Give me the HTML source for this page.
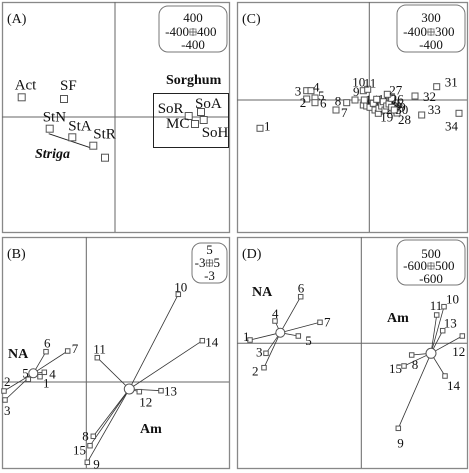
<!DOCTYPE html>
<html><head><meta charset="utf-8"><style>
body{margin:0;background:#fff}
svg{display:block;font-family:"Liberation Serif",serif}
text{fill:#111}
</style></head><body>
<svg id="c" width="469" height="473" viewBox="0 0 469 473" xmlns="http://www.w3.org/2000/svg"></svg>
<script>
// Panel A data
const aLabels=["Act","SF","StN","StA","StR","","SoR","SoA","MC","SoH"];
const aX=[-933,-510,-653,-427,-217,-100,737,860,800,887];
const aY=[197,180,-117,-203,-287,-407,10,50,-70,-30];
// Panel C data
const cLabels=["1","2","3","4","5","6","7","8","9","10","11","12","13","14","15","16","17","18","19","20","21","22","23","24","25","26","27","28","29","30","31","32","33","34"];
const cX=[-1093,-626,-626,-583,-543,-543,-333,-226,-143,-60,-16,-60,-26,-50,7,40,57,74,90,97,124,140,157,174,197,224,180,277,224,250,674,457,524,897];
const cY=[-283,10,93,93,20,-27,-100,-27,0,93,107,-50,-60,0,-73,-33,-100,7,-133,-83,-60,-17,-100,-60,-40,17,57,-130,-73,-100,133,40,-150,-133];
// Panel B data
const bLabels=["1","2","3","4","5","6","7","8","9","10","11","12","13","14","15"];
const bGroup=[0,0,0,0,0,0,0,1,1,1,1,1,1,1,1];
const bX=[-463,-823,-813,-420,-580,-403,-186,70,10,920,110,530,747,1160,37];
const bY=[53,-90,-180,97,27,303,310,-543,-803,877,243,-97,-87,413,-637];
const bCentX=[-530,430];
const bCentY=[87,-70];
// Panel D data
const dLabels=["1","2","3","4","5","6","7","8","9","10","11","12","13","14","15"];
const dGroup=[0,0,0,0,0,0,0,1,1,1,1,1,1,1,1];
const dX=[-1113,-973,-953,-863,-630,-606,-413,504,370,827,754,1010,814,837,427];
const dY=[33,-244,-100,223,73,466,210,-117,-850,366,283,73,126,-327,-227];
const dCentX=[-810,697];
const dCentY=[106,-100];

const NS="http://www.w3.org/2000/svg";
const svg=document.getElementById('c');
function mk(tag,attrs,parent){const e=document.createElementNS(NS,tag);for(const k in attrs)e.setAttribute(k,attrs[k]);(parent||svg).appendChild(e);return e;}
function scales(ox,oy){return {x:v=>ox+v/10,y:v=>oy-v/10};}

function panel(name,x0,y0,x1,y1,ox,oy,title,leg){
  const g=mk('g',{});
  
  
  const fr=mk('rect',{x:x0+.5,y:y0+.5,width:x1-x0,height:y1-y0,fill:'none',stroke:'#888','stroke-width':1.3},g);
  
  
  const vx=mk('line',{x1:ox,y1:y0,x2:ox,y2:y1,stroke:'#666','stroke-width':1},g);
  
  
  const hx=mk('line',{x1:x0,y1:oy,x2:x1,y2:oy,stroke:'#666','stroke-width':1},g);
  
  
  const t=mk('text',{x:x0+5,y:y0+21,'font-size':14},g);t.textContent=title;
  
  
  const lg=mk('g',{},g);
  
  
  mk('rect',{x:leg.x,y:leg.y,width:leg.w,height:leg.h,rx:9,fill:'#fff',stroke:'#777'},lg);
  const cx=leg.x+leg.w/2;
  const l1=mk('text',{x:cx,y:leg.y+leg.b[0],'text-anchor':'middle','font-size':13},lg);l1.textContent=leg.t[0];
  const l2=mk('text',{x:cx-4,y:leg.y+leg.b[1],'text-anchor':'end','font-size':13},lg);l2.textContent=leg.t[1];
  const l3=mk('text',{x:cx+4,y:leg.y+leg.b[1],'font-size':13},lg);l3.textContent=leg.t[2];
  const cy=leg.y+leg.b[1]-4;
  mk('rect',{x:cx-3,y:cy-3,width:6,height:6,fill:'none',stroke:'#777','stroke-width':.8},lg);
  mk('line',{x1:cx-4,y1:cy,x2:cx+4,y2:cy,stroke:'#555','stroke-width':.8},lg);
  mk('line',{x1:cx,y1:cy-4,x2:cx,y2:cy+4,stroke:'#555','stroke-width':.8},lg);
  const l4=mk('text',{x:cx,y:leg.y+leg.b[2],'text-anchor':'middle','font-size':13},lg);l4.textContent=leg.t[3];
  return g;
}
function sq(g,x,y,s,name){const r=mk('rect',{x:x-s/2,y:y-s/2,width:s,height:s,fill:'#fff',stroke:'#555','stroke-width':1},g);
  
  return r;}
function lbl(g,x,y,txt,fs,extra){const t=mk('text',Object.assign({x:x,y:y,'font-size':fs},extra||{}),g);t.textContent=txt;
  
  return t;}

// ---- Panel A
{
  const ox=115,oy=117,S=scales(ox,oy);
  const g=panel('panel-a',2,2,229,232,ox,oy,'(A)',{x:159,y:6,w:68,h:46,b:[16,30,43],t:['400','-400','400','-400']});
  const off=[[-7,-8],[-4,-9],[-7,-7],[-4,-7],[0,-7],[0,0],[-31,-3],[-6,-4],[-29,4],[-2,17]];
  const ln=mk('line',{x1:S.x(aX[2])-1,y1:S.y(aY[2])+5,x2:S.x(aX[4])-3,y2:S.y(aY[4])+2,stroke:'#222'},g);
  
  
  const box=mk('rect',{x:153.5,y:93.5,width:75,height:54,fill:'none',stroke:'#222'},g);
  
  
  aX.forEach((v,i)=>{const px=S.x(v),py=S.y(aY[i]);sq(g,px,py,7,'point-'+(aLabels[i]||'unlabeled'));
    if(aLabels[i])lbl(g,px+off[i][0],py+off[i][1],aLabels[i],15);});
  const st=lbl(g,35,158,'Striga',14,{'font-weight':'bold','font-style':'italic'});
  const so=lbl(g,166,84,'Sorghum',14,{'font-weight':'bold'});
}
// ---- Panel C
{
  const ox=369.3,oy=100,S=scales(ox,oy);
  const g=panel('panel-c',237,2,467,232,ox,oy,'(C)',{x:397,y:5,w:68,h:47,b:[17,31,44],t:['300','-400','300','-400']});
  const off={0:[4,2],1:[-7,8],2:[-12,5],3:[2,1],4:[3,2],5:[5,5],6:[5,7],7:[-12,3],8:[-2,-4],9:[-11,-4],10:[-4,-2],18:[2,8],25:[-1,5],26:[2,0],27:[1,11],30:[8,0],31:[8,5],32:[6,-1],33:[-14,17]};
  cX.forEach((v,i)=>{const px=S.x(v),py=S.y(cY[i]);sq(g,px,py,6,'point-'+cLabels[i]);
    const o=off[i]||[1,4];lbl(g,px+o[0],py+o[1],cLabels[i],13);});
}
// ---- Groups
function groupPanel(name,x0,y0,x1,y1,ox,oy,title,leg,X,Y,G,CX,CY,L,off,groupNames,gpos){
  const S=scales(ox,oy);
  const g=panel(name,x0,y0,x1,y1,ox,oy,title,leg);
  X.forEach((v,i)=>{const l=mk('line',{x1:S.x(CX[G[i]]),y1:S.y(CY[G[i]]),x2:S.x(v),y2:S.y(Y[i]),stroke:'#333','stroke-width':.8},g);
    
    });
  CX.forEach((v,k)=>{const c=mk('circle',{cx:S.x(v),cy:S.y(CY[k]),r:k?5:4.5,fill:'#fff',stroke:'#555'},g);
    
    
    const t=lbl(g,gpos[k][0],gpos[k][1],groupNames[k],14,{'font-weight':'bold'});});
  X.forEach((v,i)=>{const px=S.x(v),py=S.y(Y[i]);sq(g,px,py,4.5,'point-'+L[i]);lbl(g,px+off[i][0],py+off[i][1],L[i],13);});
}
groupPanel('panel-b',2,237,229,468,86.3,382,'(B)',{x:192,y:243,w:35,h:40,b:[11,24,37],t:['5','-3','5','-3']},
  bX,bY,bGroup,bCentX,bCentY,bLabels,
  [[3,11],[0,-5],[-1,15],[5,6],[-6,-2],[-2,-4],[4,2],[-11,4],[6,6],[-4,-3],[-4,-4],[0,15],[3,5],[3,6],[-17,9]],
  ['NA','Am'],[[8,358],[140,433]]);
groupPanel('panel-d',237,237,467,468,361.3,343.3,'(D)',{x:397,y:240,w:68,h:45,b:[18,30,43],t:['500','-600','500','-600']},
  dX,dY,dGroup,dCentX,dCentY,dLabels,
  [[-7,1],[-12,8],[-10,3],[-3,-3],[7,9],[-3,-4],[4,4],[0,14],[-1,19],[2,-3],[-7,-5],[-10,20],[1,-3],[2,14],[-15,7]],
  ['NA','Am'],[[252,296],[387,322]]);
</script>
</body></html>
